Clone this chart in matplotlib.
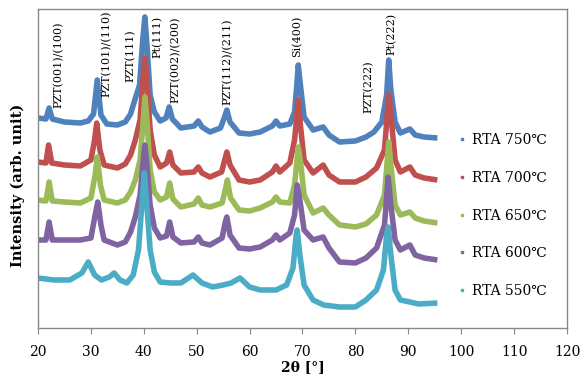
import numpy as np
import matplotlib
matplotlib.use('Agg')
import matplotlib.pyplot as plt
from matplotlib.lines import Line2D

#DU LIEU (2theta, cuong do tuong doi)
x750 = [20, 21.5, 22.1, 22.7, 25, 28, 29.5, 30.5, 31.2, 31.9, 33, 35, 36.5, 37.5, 38.3, 39.2, 39.8, 40.2, 40.6, 41.2,
        42, 43.1, 44.2, 44.8, 45.4, 47, 49.5, 50.3, 51, 52.5, 54.5, 55.2, 55.7, 56.3, 58, 60, 62, 64.3, 65, 65.7,
        67.6, 68.5, 69.0, 69.2, 69.6, 70.3, 72, 73.9, 75, 77, 80, 82, 83.5, 85, 85.9, 86.3, 86.7, 87.5, 88.5, 90.3,
        91.3, 93, 95.5]
y750 = [210, 209, 220, 209, 206, 205, 207, 214, 248, 213, 204, 203, 206, 214, 228, 243, 288, 311, 283, 233,
        216, 207, 210, 221, 209, 200, 202, 207, 201, 196, 200, 210, 218, 206, 195, 194, 196, 202, 207, 202,
        204, 216, 248, 263, 243, 211, 198, 201, 193, 186, 187, 191, 196, 206, 233, 268, 238, 206, 195, 199,
        193, 191, 190]

x700 = [20, 21.5, 22, 22.6, 25, 28, 30, 30.7, 31.1, 31.7, 32.5, 35, 36.5, 37.5, 38.4, 39.3, 39.9, 40.2, 40.6, 41.2,
        42, 43.1, 44.3, 44.9, 45.5, 47, 49.5, 50.3, 51, 52.5, 54.7, 55.3, 55.7, 56.3, 58, 60, 62, 64.3, 65, 65.7,
        67.6, 68.5, 69.2, 69.6, 70.3, 72, 73.9, 75, 77, 80, 82, 84, 85.5, 86.3, 86.8, 87.5, 88.5, 90.3, 91.3, 93, 95.5]
y700 = [166, 165, 183, 165, 163, 162, 168, 188, 205, 178, 163, 160, 164, 173, 188, 208, 253, 270, 248, 198,
        173, 161, 165, 176, 163, 155, 156, 161, 155, 151, 156, 168, 176, 163, 148, 146, 148, 156, 162, 156,
        165, 188, 228, 203, 168, 155, 163, 153, 146, 146, 151, 160, 178, 233, 208, 168, 156, 161, 153, 150, 148]

x650 = [20, 21.5, 22.1, 22.7, 25, 28, 30, 30.8, 31.2, 31.8, 32.5, 35, 36.5, 37.5, 38.4, 39.3, 39.9, 40.2, 40.6, 41.2,
        42, 43.1, 44.3, 44.9, 45.5, 47, 49.5, 50.3, 51, 52.5, 54.8, 55.4, 55.8, 56.4, 58, 60, 62, 64.3, 65, 65.7,
        67.6, 68.5, 69.2, 69.7, 70.3, 72, 73.9, 75, 77, 80, 82, 84, 85.5, 86.3, 86.8, 87.5, 88.5, 90.3, 91.3, 93, 95.5]
y650 = [128, 127, 146, 127, 126, 125, 130, 153, 171, 143, 128, 125, 128, 136, 148, 168, 208, 231, 208, 158,
        136, 128, 131, 145, 129, 121, 124, 130, 123, 121, 125, 138, 148, 130, 118, 117, 120, 126, 131, 126,
        125, 143, 181, 163, 133, 115, 120, 113, 103, 101, 104, 113, 133, 186, 158, 123, 113, 116, 110, 107, 105]

x600 = [20, 21.5, 22.1, 22.7, 25, 28, 30, 30.8, 31.3, 31.9, 32.5, 35, 36.5, 37.5, 38.4, 39.3, 39.9, 40.2, 40.6, 41.2,
        42, 43.1, 44.3, 44.9, 45.5, 47, 49.5, 50.3, 51, 52.5, 54.8, 55.4, 55.7, 56.3, 58, 60, 62, 64.3, 65, 65.7,
        67.6, 68.5, 69.0, 69.5, 70.3, 72, 73.9, 75, 77, 80, 82, 84, 85.5, 86.2, 86.7, 87.5, 88.5, 90.3, 91.3, 93, 95.5]
y600 = [88, 88, 106, 88, 88, 88, 90, 113, 126, 103, 88, 83, 86, 96, 111, 133, 168, 183, 163, 123,
        100, 90, 92, 106, 91, 85, 86, 91, 85, 83, 90, 106, 111, 93, 80, 79, 81, 88, 93, 88,
        95, 113, 143, 128, 98, 88, 91, 80, 66, 65, 70, 80, 103, 151, 123, 88, 78, 83, 73, 70, 68]

x550 = [20, 23, 26, 28.3, 29.5, 30.7, 32, 33.5, 34.4, 35.5, 36.8, 38, 39, 39.7, 40.1, 40.5, 41.2, 42, 43.1, 45,
        47, 49.3, 51, 53, 55, 56.5, 58.2, 60, 62, 65, 67, 68.2, 68.8, 69.0, 69.5, 70.3, 72, 74, 77, 80,
        82, 84, 85.3, 85.9, 86.2, 86.7, 87.5, 88.5, 90.3, 92, 95.5]
y550 = [50, 48, 48, 55, 66, 53, 48, 51, 55, 48, 45, 53, 78, 128, 155, 128, 78, 56, 46, 45,
        45, 53, 45, 41, 43, 45, 50, 41, 38, 38, 43, 60, 93, 98, 73, 43, 28, 23, 21, 21,
        28, 38, 58, 93, 101, 73, 38, 28, 26, 24, 25]

labels = ['RTA 750℃', 'RTA 700℃', 'RTA 650℃', 'RTA 600℃', 'RTA 550℃']
colors = ['#4F81BD', '#C0504D', '#9BBB59', '#8064A2', '#4BACC6']

peak_names = ['PZT(001)/(100)', 'PZT(101)/(110)', 'PZT(111)', 'Pt(111)', 'PZT(002)/(200)',
              'PZT(112)/(211)', 'Si(400)', 'PZT(222)', 'Pt(222)']
peak_x = [23.8, 33.0, 37.4, 42.5, 45.9, 55.9, 69.0, 82.4, 86.9]
peak_y = [220, 231, 246, 270, 225, 223, 271, 215, 273]

#VE
fig = plt.figure(figsize=(5.8, 3.78), dpi=100)
ax = fig.add_axes([0.0655, 0.1323, 0.9121, 0.8439])

xs = [x750, x700, x650, x600, x550]
ys = [y750, y700, y650, y600, y550]
for x, y, c in zip(xs, ys, colors):
    ax.plot(x, y, color=c, lw=4, solid_joinstyle='round', solid_capstyle='butt')

serif = ['DejaVu Serif', 'DejaVu Sans', 'Noto Sans CJK JP']
for name, px, py in zip(peak_names, peak_x, peak_y):
    ax.text(px, py, name, rotation=90, ha='center', va='bottom', fontsize=8, family=serif)

ax.set_xlim(20, 120)
ax.set_ylim(0, 319)
ax.set_xticks(np.arange(20, 121, 10))
ax.set_yticks([])
for lab in ax.get_xticklabels():
    lab.set_family(serif)
    lab.set_fontsize(10)
ax.tick_params(axis='x', direction='out', length=4, color='#888888', pad=8)
for s in ax.spines.values():
    s.set_color('#888888')
    s.set_linewidth(1)

ax.set_xlabel('2θ [°]', fontsize=10, fontweight='bold', family=serif, labelpad=1)
ax.set_ylabel('Intensity (arb. unit)', fontsize=10.5, fontweight='bold', family=serif)
ax.yaxis.set_label_coords(-0.025, 0.448)

handles = [Line2D([], [], marker='s', ms=2, ls='none', color=c) for c in colors]
ax.legend(handles, labels, loc='upper left', bbox_to_anchor=(0.796, 0.611), frameon=False,
          prop={'family': serif, 'size': 10}, handlelength=0.4, handletextpad=0.5,
          labelspacing=1.71, borderpad=0, borderaxespad=0)

fig.savefig('out.png', dpi=100)
